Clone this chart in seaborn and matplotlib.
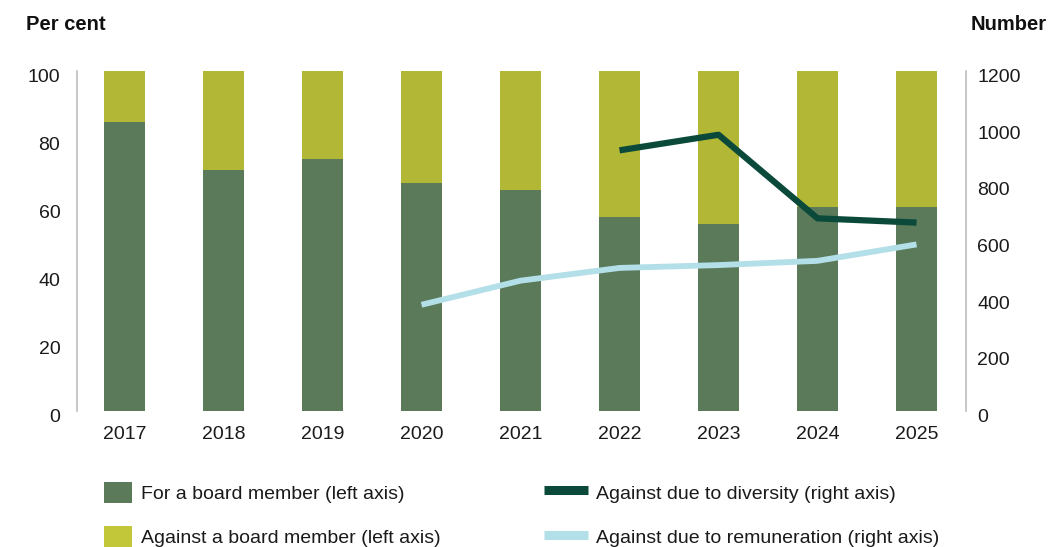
import numpy as np
import pandas as pd
import matplotlib
matplotlib.use("Agg")
import matplotlib.pyplot as plt
import matplotlib.transforms as mtransforms
from matplotlib.patches import Patch
from matplotlib.lines import Line2D
import seaborn as sns

years = ["2017", "2018", "2019", "2020", "2021", "2022", "2023", "2024", "2025"]
for_board = [85, 71, 74, 67, 65, 57, 55, 60, 60]
against_board = [15, 29, 26, 33, 35, 43, 45, 40, 40]
against_diversity = [np.nan, np.nan, np.nan, np.nan, np.nan, 920, 975, 680, 665]
against_remuneration = [np.nan, np.nan, np.nan, 375, 460, 505, 515, 530, 588]

left_ticks = [0, 20, 40, 60, 80, 100]
right_ticks = [0, 200, 400, 600, 800, 1000, 1200]

c_for = "#5a7a5a"
c_against = "#b2b835"
c_div = "#0b4a3b"
c_rem = "#b3dfe9"

sns.set_theme(style="white")
plt.rcParams["font.family"] = ["Liberation Sans", "DejaVu Sans"]

df = pd.DataFrame({
    "year": years,
    "for": for_board,
    "against": against_board,
    "diversity": against_diversity,
    "remuneration": against_remuneration,
})
df["total"] = df["for"] + df["against"]
df["pos"] = np.arange(len(df))

fig = plt.figure(figsize=(10.49, 5.47), dpi=100)
ax = fig.add_axes([0.0734, 0.2486, 0.8475, 0.6216])

# stacked bars: full height in the "against" colour, "for" share drawn on top
sns.barplot(data=df, x="year", y="total", color=c_against, width=0.42,
            saturation=1, linewidth=0, ax=ax)
sns.barplot(data=df, x="year", y="for", color=c_for, width=0.42,
            saturation=1, linewidth=0, ax=ax)

ax.set_ylim(0, 100)
ax.set_xlim(-0.48, 8.5)
ax.set_yticks(left_ticks)
ax.set_xlabel("")
ax.set_ylabel("")
ax.tick_params(axis="y", labelsize=14, pad=12, length=0, colors="#1a1a1a")
ax.tick_params(axis="x", labelsize=14, pad=11, length=0, colors="#1a1a1a")
for s in ["top", "right", "bottom"]:
    ax.spines[s].set_visible(False)
ax.spines["left"].set_color("#bdbdbd")
ax.spines["left"].set_linewidth(1.2)

ax2 = ax.twinx()
sns.lineplot(data=df, x="pos", y="remuneration", color=c_rem, linewidth=4.2,
             ax=ax2, solid_capstyle="butt")
sns.lineplot(data=df, x="pos", y="diversity", color=c_div, linewidth=4.5,
             ax=ax2, solid_capstyle="butt")
ax2.set_ylim(0, 1200)
ax2.set_xlim(-0.48, 8.5)
ax2.set_yticks(right_ticks)
ax2.set_xlabel("")
ax2.set_ylabel("")
ax2.tick_params(axis="y", labelsize=14, pad=8, length=0, colors="#1a1a1a")
for s in ["top", "left", "bottom"]:
    ax2.spines[s].set_visible(False)
ax2.spines["right"].set_color("#bdbdbd")
ax2.spines["right"].set_linewidth(1.2)

# value labels on both y axes sit slightly below their gridline positions
shift = mtransforms.ScaledTranslation(0, -4.5 / 100, fig.dpi_scale_trans)
for lab in ax.get_yticklabels() + ax2.get_yticklabels():
    lab.set_transform(lab.get_transform() + shift)

fig.text(26 / 1049, 1 - 25 / 547, "Per cent", fontsize=14.5, fontweight="bold",
         va="center", ha="left", color="#111111")
fig.text(1047 / 1049, 1 - 25 / 547, "Number", fontsize=14.5, fontweight="bold",
         va="center", ha="right", color="#111111")

bar_handles = [Patch(facecolor=c_for, edgecolor="none"),
               Patch(facecolor="#c2c739", edgecolor="none")]
bar_labels = ["For a board member (left axis)", "Against a board member (left axis)"]
leg1 = fig.legend(bar_handles, bar_labels, loc="upper left",
                  bbox_to_anchor=(96 / 1049, 1 - 474 / 547), frameon=False,
                  fontsize=14, handlelength=1.45, handleheight=1.3,
                  handletextpad=0.45, labelspacing=1.2, borderaxespad=0)

line_handles = [Line2D([], [], color=c_div, linewidth=6.5, solid_capstyle="butt"),
                Line2D([], [], color=c_rem, linewidth=6.5, solid_capstyle="butt")]
line_labels = ["Against due to diversity (right axis)",
               "Against due to remuneration (right axis)"]
leg2 = fig.legend(line_handles, line_labels, loc="upper left",
                  bbox_to_anchor=(536 / 1049, 1 - 474 / 547), frameon=False,
                  fontsize=14, handlelength=2.25, handleheight=1.3,
                  handletextpad=0.45, labelspacing=1.2, borderaxespad=0)
for t in leg1.get_texts() + leg2.get_texts():
    t.set_color("#1a1a1a")

fig.savefig("out.png", dpi=100)
